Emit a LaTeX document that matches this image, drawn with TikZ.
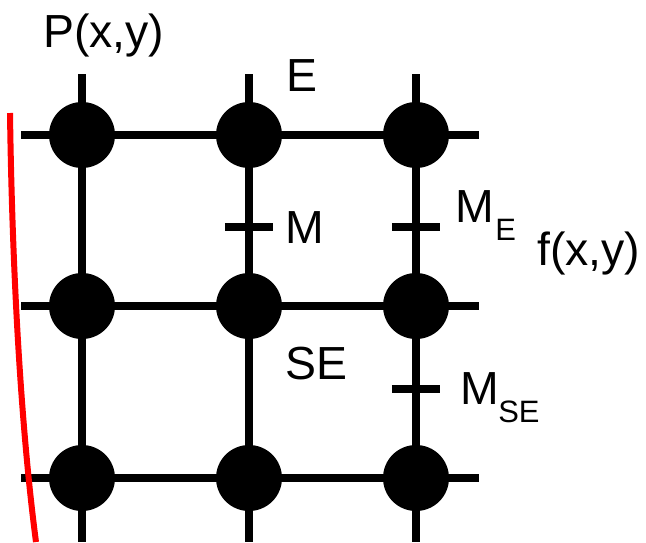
\documentclass[tikz,border=0pt]{standalone}
\usepackage{fontspec}
\setmainfont{Liberation Sans}
\usetikzlibrary{positioning}
\tikzset{
  dot/.style={circle, fill=black, minimum size=1.65cm, inner sep=0pt},
  gridline/.style={line width=0.2cm},
  tick/.style={line width=0.2cm},
  lbl/.style={anchor=base west, inner sep=0pt, font=\fontsize{33}{38}\selectfont},
  sublbl/.style={anchor=base west, inner sep=0pt, font=\fontsize{22}{26}\selectfont}
}

\begin{document}
\begin{tikzpicture}[x=0.025cm, y=-0.025cm]
    \useasboundingbox (0,0) rectangle (646,542);

    % Các điểm lưới (3 hàng x 3 cột)
    \node[dot] (a1) at (82,135) {};
    \node[dot] (a2) at (249,135) {};
    \node[dot] (a3) at (416,135) {};
    \node[dot] (b1) at (82,306) {};
    \node[dot] (b2) at (249,306) {};
    \node[dot] (b3) at (416,306) {};
    \node[dot] (c1) at (82,478) {};
    \node[dot] (c2) at (249,478) {};
    \node[dot] (c3) at (416,478) {};

    % Đầu mút của các đường lưới
    \coordinate (la) at (21,135);  \coordinate (ra) at (479,135);
    \coordinate (lb) at (21,306);  \coordinate (rb) at (479,306);
    \coordinate (lc) at (21,478);  \coordinate (rc) at (479,478);
    \coordinate (t1) at (82,74);   \coordinate (d1) at (82,542);
    \coordinate (t2) at (249,74);  \coordinate (d2) at (249,542);
    \coordinate (t3) at (416,74);  \coordinate (d3) at (416,542);

    % Đường ngang
    \draw[gridline] (la) -- (a1) -- (a2) -- (a3) -- (ra);
    \draw[gridline] (lb) -- (b1) -- (b2) -- (b3) -- (rb);
    \draw[gridline] (lc) -- (c1) -- (c2) -- (c3) -- (rc);

    % Đường dọc
    \draw[gridline] (t1) -- (a1) -- (b1) -- (c1) -- (d1);
    \draw[gridline] (t2) -- (a2) -- (b2) -- (c2) -- (d2);
    \draw[gridline] (t3) -- (a3) -- (b3) -- (c3) -- (d3);

    % Điểm giữa M, M_E, M_SE
    \coordinate (m) at (249,227);
    \coordinate (me) at (416,227);
    \coordinate (mse) at (416,389);
    \draw[tick] ([xshift=-0.6cm]m) -- ([xshift=0.6cm]m);
    \draw[tick] ([xshift=-0.6cm]me) -- ([xshift=0.6cm]me);
    \draw[tick] ([xshift=-0.6cm]mse) -- ([xshift=0.6cm]mse);

    % Đường cong f(x,y) màu đỏ
    \coordinate (ftop) at (10,113);
    \coordinate (fbot) at (36,542);
    \draw[red, line width=0.15cm] (ftop) .. controls (12,260) and (20,420) .. (fbot);

    % Nhãn
    \node[lbl] (lp) at (43,47) {P(x,y)};
    \node[lbl] (le) at (286,91) {E};
    \node[lbl] (lm) at (285,243) {M};
    \node[lbl] (lme) at (455,222) {M};
    \node[sublbl] (lmes) at (495,240) {E};
    \node[lbl] (lse) at (285,379) {SE};
    \node[lbl] (lmse) at (460,404) {M};
    \node[sublbl] (lmses) at (498,422) {SE};
    \node[lbl] (lf) at (537,265) {f(x,y)};
\end{tikzpicture}
\end{document}
